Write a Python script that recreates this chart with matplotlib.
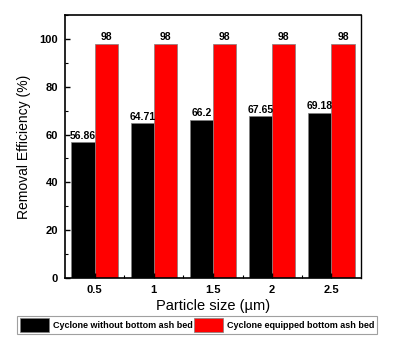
import matplotlib

matplotlib.use("Agg")

import matplotlib.pyplot as plt  # noqa: E402
import numpy as np  # noqa: E402
from matplotlib.ticker import MultipleLocator  # noqa: E402

plt.rcParams["font.family"] = ["Liberation Sans", "DejaVu Sans"]

sizes = ["0.5", "1", "1.5", "2", "2.5"]
without_bed = [56.86, 64.71, 66.2, 67.65, 69.18]
with_bed = [98, 98, 98, 98, 98]
without_labels = ["56.86", "64.71", "66.2", "67.65", "69.18"]
with_labels = ["98", "98", "98", "98", "98"]

x = np.arange(len(sizes))
width = 0.39

fig = plt.figure(figsize=(4.03, 3.44), dpi=100)
ax = fig.add_axes([0.161, 0.192, 0.735, 0.764])

b1 = ax.bar(x - width / 2, without_bed, width, color="black",
            edgecolor="#808080", linewidth=0.5,
            label="Cyclone without bottom ash bed")
b2 = ax.bar(x + width / 2, with_bed, width, color="#ff0000",
            edgecolor="#808080", linewidth=0.5,
            label="Cyclone equipped bottom ash bed")
ax.bar_label(b1, labels=without_labels, padding=1, fontsize=7.5,
             fontweight="bold")
ax.bar_label(b2, labels=with_labels, padding=1, fontsize=7.5,
             fontweight="bold")

ax.set_xlim(-0.5, len(sizes) - 0.5)
ax.set_ylim(0, 110)
ax.set_xticks(x)
ax.set_xticklabels(sizes)
ax.set_xticks(x[:-1] + 0.5, minor=True)
ax.set_yticks([0, 20, 40, 60, 80, 100])
ax.yaxis.set_minor_locator(MultipleLocator(10))
ax.tick_params(axis="both", which="both", direction="in", top=False,
               right=False)
ax.tick_params(axis="both", which="major", length=3.5, width=1,
               labelsize=8, pad=5)
ax.tick_params(axis="both", which="minor", length=2, width=0.8)
for lbl in ax.get_xticklabels() + ax.get_yticklabels():
    lbl.set_fontweight("bold")
for side in ["left", "bottom", "top"]:
    ax.spines[side].set_linewidth(1.2)
ax.spines["right"].set_linewidth(1.0)

ax.set_xlabel("Particle size (\u00b5m)", fontsize=10.5, labelpad=3)
ax.set_ylabel("Removal Efficiency (%)", fontsize=10, labelpad=6)

leg = fig.legend(handles=[b1, b2], loc="center", ncol=2,
                 bbox_to_anchor=(0.489, 0.055),
                 prop={"weight": "bold", "size": 6.5},
                 handlelength=3.3, handleheight=1.9, handletextpad=0.4,
                 columnspacing=0.1, borderpad=0.25, fancybox=False,
                 edgecolor="#a0a0a0", framealpha=1)
leg.get_frame().set_linewidth(0.8)

fig.savefig("out.png", dpi=100)
plt.close(fig)
